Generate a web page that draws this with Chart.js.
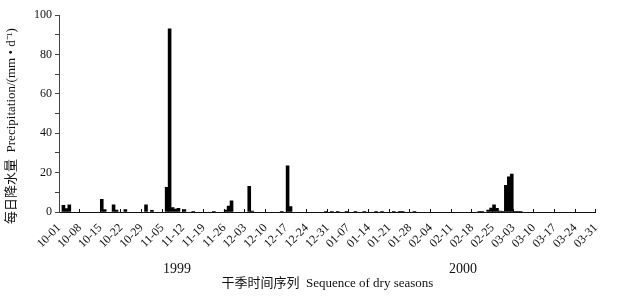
<!DOCTYPE html>
<html>
<head>
<meta charset="utf-8">
<script src="https://cdn.jsdelivr.net/npm/chart.js@4.4.0/dist/chart.umd.min.js"></script>
<style>
  html, body { margin: 0; padding: 0; background: #fff; }
  #wrap { width: 618px; height: 296px; }
</style>
</head>
<body>
<div id="wrap"><canvas id="c"></canvas></div>
<script>
/* global Chart */
// dias contados a partir de 1999-10-01 (dia 0), so os dias com chuva
const rainDay = [1, 2, 3, 14, 15, 18, 19, 22, 29, 31, 36, 37, 38, 39, 40, 42, 45, 52,
  56, 57, 58, 64, 65, 75, 77, 78, 90, 92, 94, 97, 100, 103, 107, 109, 113, 115, 116, 120,
  142, 143, 145, 146, 147, 148, 149, 150, 151, 152, 153, 154, 155, 156];
const rainMm = [3.4, 1.7, 3.7, 6.4, 1.2, 3.7, 1.0, 1.2, 3.7, 0.8, 12.5, 93, 2.2, 1.5, 1.8, 1.2, 0.3, 0.3,
  1.0, 3.0, 5.7, 13.0, 0.5, 0.4, 23.5, 2.7, 0.3, 0.3, 0.4, 0.3, 0.4, 0.3, 0.4, 0.3, 0.4, 0.3, 0.3, 0.4,
  0.3, 0.3, 1.0, 2.0, 3.7, 1.8, 0.5, 0.4, 13.6, 17.8, 19.3, 0.3, 0.3, 0.3];
const startDate = Date.UTC(1999, 9, 1);
const totalDays = 182;
const yearLabels = ['1999', '2000'];
const yearAt = [40, 137];
const yTitle = '每日降水量  Precipitation/(mm • d⁻¹)';
const xTitle = '干季时间序列  Sequence of dry seasons';

const SERIF = "'Liberation Serif', 'Noto Sans CJK SC', serif";
const INK = '#111';

function fmtDia(v) {
  const d = new Date(startDate + v * 86400000);
  const mm = String(d.getUTCMonth() + 1).padStart(2, '0');
  const dd = String(d.getUTCDate()).padStart(2, '0');
  return mm + '-' + dd;
}

const textos = {
  id: 'textos',
  afterDraw(chart) {
    const ctx = chart.ctx;
    const xs = chart.scales.x;
    ctx.save();
    ctx.fillStyle = INK;
    ctx.textAlign = 'center';
    ctx.textBaseline = 'middle';
    ctx.font = '14px ' + SERIF;
    yearLabels.forEach((t, i) => ctx.fillText(t, xs.getPixelForValue(yearAt[i]), 269));
    ctx.font = '13px ' + SERIF;
    ctx.fillText(xTitle, (chart.chartArea.left + chart.chartArea.right) / 2, 284);
    ctx.translate(12, 126);
    ctx.rotate(-Math.PI / 2);
    ctx.fillText(yTitle, 0, 0);
    ctx.restore();
  }
};

new Chart(document.getElementById('c'), {
  type: 'bar',
  data: {
    datasets: [{
      data: rainDay.map((d, i) => ({ x: d + 0.5, y: rainMm[i] })),
      backgroundColor: '#000',
      borderColor: '#000',
      borderWidth: 0,
      barPercentage: 1,
      categoryPercentage: 1,
    }]
  },
  options: {
    responsive: true,
    maintainAspectRatio: false,
    animation: false,
    layout: { padding: { left: 0, right: 22, top: 15, bottom: 0 } },
    plugins: { legend: { display: false }, tooltip: { enabled: false } },
    scales: {
      x: {
        type: 'linear', min: 0, max: totalDays, offset: false,
        grid: { drawOnChartArea: false, drawTicks: true, tickLength: -3, color: INK, offset: false },
        border: { display: true, color: INK, width: 1 },
        ticks: {
          stepSize: 7, autoSkip: false, minRotation: 45, maxRotation: 45, padding: 12,
          color: INK, font: { family: SERIF, size: 12 },
          callback: v => fmtDia(v)
        },
        afterFit: s => { s.height = 84; }
      },
      y: {
        min: 0, max: 100,
        grid: { drawOnChartArea: false, drawTicks: true, tickLength: 4, color: '#444' },
        border: { display: true, color: '#444', width: 1 },
        ticks: {
          stepSize: 10, padding: 3, color: INK, font: { family: SERIF, size: 12 },
          callback: v => (v % 20 === 0 ? v : '')
        },
        afterFit: s => { s.width = 59; }
      }
    }
  },
  plugins: [textos]
});
</script>
</body>
</html>
